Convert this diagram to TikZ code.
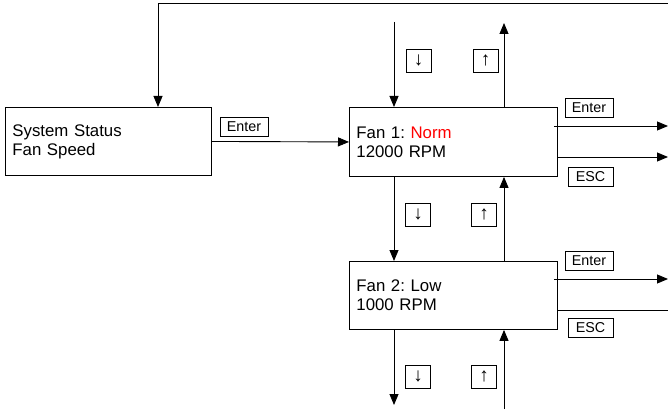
\documentclass[tikz,border=0pt]{standalone}
\usepackage{fontspec}
\setmainfont{Liberation Sans}
\usetikzlibrary{arrows.meta}
\definecolor{normred}{RGB}{255,0,0}
\frenchspacing
\tikzset{
  conn/.style={line width=0.9pt, draw=black},
  arr/.style={conn, -{Triangle[length=11pt,width=9pt]}},
  screen/.style={draw=black, line width=0.9pt, inner xsep=7pt, inner ysep=0pt, align=left,
     font=\fontsize{16.8}{19}\selectfont, anchor=north west},
  key/.style={draw=black, line width=0.8pt, inner sep=0pt, font=\fontsize{14.3}{15}\selectfont},
  arrkey/.style={key, minimum width=25pt, minimum height=23pt, font=\fontsize{19}{19}\selectfont},
}
\begin{document}
\begin{tikzpicture}[x=1pt,y=-1pt]
\useasboundingbox (0,0) rectangle (668,409);
% screens
\node[screen, text width=192pt, minimum height=68pt] (sys) at (5,107) {System Status\\Fan Speed};
\node[screen, text width=194pt, minimum height=69pt] (fan1) at (349,107) {Fan 1: \textcolor{normred}{Norm}\\12000 RPM};
\node[screen, text width=194pt, minimum height=68pt] (fan2) at (349,261) {Fan 2: Low\\1000 RPM};
% key labels
\node[key, minimum width=48pt, minimum height=19pt] (k0) at (244,126.5) {Enter};
\node[arrkey] (kd1) at (418.5,60.5) {↓};
\node[arrkey] (ku1) at (485.5,60.5) {↑};
\node[key, minimum width=48pt, minimum height=19pt] (ke1) at (589,107.5) {Enter};
\node[key, minimum width=45pt, minimum height=19pt] (kc1) at (590.5,176.5) {ESC};
\node[arrkey] (kd2) at (418,214.5) {↓};
\node[arrkey] (ku2) at (484,214.5) {↑};
\node[key, minimum width=48pt, minimum height=19pt] (ke2) at (589,260.5) {Enter};
\node[key, minimum width=45pt, minimum height=19pt] (kc2) at (590.5,327.5) {ESC};
\node[arrkey] (kd3) at (418,376.5) {↓};
\node[arrkey] (ku3) at (484,376.5) {↑};
% free ends
\coordinate (tr) at (668,3);
\coordinate (tl) at (158,3);
\coordinate (d0) at (394,22);
\coordinate (u0) at (504,23);
\coordinate (e1) at (668,126);
\coordinate (c1) at (668,157);
\coordinate (e2) at (668,279);
\coordinate (c2) at (668,310);
\coordinate (d3) at (394,405);
\coordinate (u3) at (504,409);
% connectors
\draw[arr] (tr) -- (tl) -- (tl |- sys.north);
\draw[arr] (sys.east) -- (fan1.west);
\draw[arr] (d0) -- (d0 |- fan1.north);
\draw[arr] (u0 |- fan1.north) -- (u0);
\draw[arr] ([xshift=-4pt]fan1.east |- e1) -- (e1);
\draw[arr] (fan1.east |- c1) -- (c1);
\draw[arr] (fan1.south -| d0) -- (fan2.north -| d0);
\draw[arr] (fan2.north -| u0) -- (fan1.south -| u0);
\draw[arr] ([xshift=-4pt]fan2.east |- e2) -- (e2);
\draw[conn] (fan2.east |- c2) -- (c2);
\draw[arr] (fan2.south -| d0) -- (d3);
\draw[arr] (u3) -- (fan2.south -| u0);
\end{tikzpicture}
\end{document}
